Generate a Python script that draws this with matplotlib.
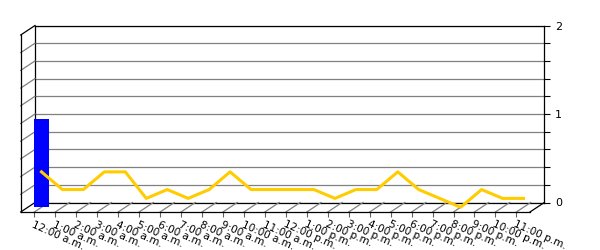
import numpy as np
import matplotlib
matplotlib.use("Agg")
import matplotlib.pyplot as plt
import matplotlib.transforms as mtransforms

hours = ["12:00 a.m.", "1:00 a.m.", "2:00 a.m.", "3:00 a.m.", "4:00 a.m.", "5:00 a.m.",
         "6:00 a.m.", "7:00 a.m.", "8:00 a.m.", "9:00 a.m.", "10:00 a.m.", "11:00 a.m.",
         "12:00 p.m.", "1:00 p.m.", "2:00 p.m.", "3:00 p.m.", "4:00 p.m.", "5:00 p.m.",
         "6:00 p.m.", "7:00 p.m.", "8:00 p.m.", "9:00 p.m.", "10:00 p.m.", "11:00 p.m."]
bar_values = [1, 0, 0, 0, 0, 0, 0, 0, 0, 0, 0, 0,
              0, 0, 0, 0, 0, 0, 0, 0, 0, 0, 0, 0]
line_values = [0.4, 0.2, 0.2, 0.4, 0.4, 0.1, 0.2, 0.1, 0.2, 0.4, 0.2, 0.2,
               0.2, 0.2, 0.1, 0.2, 0.2, 0.4, 0.2, 0.1, 0.0, 0.2, 0.1, 0.1]
y_ticks = np.arange(0, 2.01, 0.2)

W, H = 600, 250
DX, DY = 14.3, 9.5  # depth offset in pixels
xmin, xmax = -0.65, 23.65
ymin, ymax = 0, 2

fig = plt.figure(figsize=(W / 100, H / 100), dpi=100)
left, bottom, width, height = 20.7 / W, 38 / H, 509.3 / W, 177 / H

# back wall
axb = fig.add_axes([left + DX / W, bottom + DY / H, width, height])
axb.set_xlim(xmin, xmax)
axb.set_ylim(ymin, ymax)
axb.set_xticks([])
axb.set_yticks(y_ticks)
axb.set_yticklabels(["%d" % v if abs(v - round(v)) < 1e-6 else "" for v in y_ticks])
axb.yaxis.tick_right()
axb.tick_params(axis="y", length=4.3, width=0.8, pad=3.5, labelsize=8, color="black")
axb.yaxis.grid(True, color="#808080", lw=0.9)
for s in axb.spines.values():
    s.set_color("black")
    s.set_linewidth(0.9)

# front plane
ax = fig.add_axes([left, bottom, width, height])
ax.patch.set_visible(False)
ax.set_xlim(xmin, xmax)
ax.set_ylim(ymin, ymax)
for s in ax.spines.values():
    s.set_visible(False)
ax.set_yticks([])
x = np.arange(len(hours))
ax.set_xticks(x)
ax.set_xticklabels(hours, rotation=-24, ha="left", va="top", rotation_mode="anchor", fontsize=7.5)
ax.tick_params(axis="x", length=3.8, width=0.8, color="#606060", pad=1.5)

dxd = DX / (width * W) * (xmax - xmin)
dyd = DY / (height * H) * (ymax - ymin)

# left wall
for v in y_ticks:
    c = "black" if abs(v) < 1e-6 or abs(v - 2) < 1e-6 else "#808080"
    ax.plot([xmin, xmin + dxd], [v, v + dyd], color=c, lw=0.9, clip_on=False)
ax.plot([xmin, xmin], [ymin, ymax], color="black", lw=0.9, clip_on=False)

# floor
for k in x:
    ax.plot([k, k + dxd], [0, dyd], color="#808080", lw=0.9, clip_on=False)
ax.plot([xmin, xmax], [0, 0], color="black", lw=0.9, clip_on=False)
ax.plot([xmax, xmax + dxd], [0, dyd], color="black", lw=0.9, clip_on=False)

mid = ax.transData + mtransforms.ScaledTranslation(DX / 200, DY / 200, fig.dpi_scale_trans)
ax.bar(x, bar_values, width=0.73, color="#0000FF", transform=mid, clip_on=False, zorder=3)
ax.plot(x, line_values, color="#FFCC00", lw=2.2, transform=mid, clip_on=False, zorder=4)

fig.savefig("out.png", dpi=100)
